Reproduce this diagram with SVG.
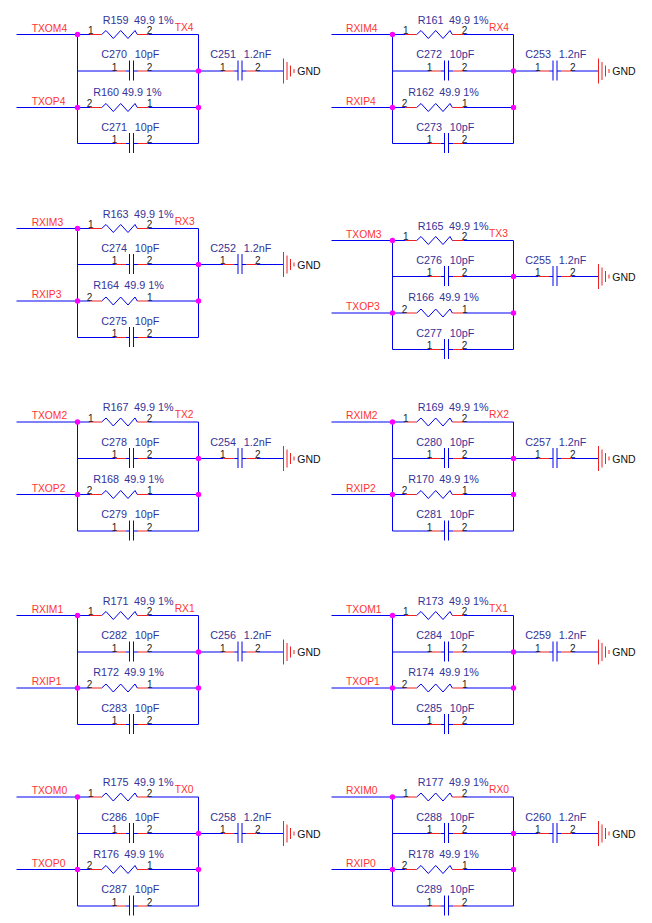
<svg xmlns="http://www.w3.org/2000/svg" width="652" height="923" viewBox="0 0 652 923">
<style>
text{font-family:"Liberation Sans",Arial,sans-serif}
.v{font-size:10.8px;fill:#333399}
.p{font-size:10px;fill:#222222}
.n{font-size:10.3px;fill:#ff3333}
.g{font-size:10.5px;fill:#111111}
.w{fill:none;stroke:#0000f0;stroke-width:1}
.s{fill:none;stroke:#ee2222;stroke-width:1}
.d{fill:#ff00ff}
</style>
<defs>
<g id="r"><path class="s" d="M0 0H11.7M47.3 0H58.3"/><path class="w" d="M11.7 0L16 -4L23.3 4L30.7 -4L38 4L45 -4L47.3 0"/></g>
<g id="c"><path class="s" d="M0 0H10.7M23 0H33"/><path class="w" d="M10.7 0H14.5M14.5 -10.5V9.5M18.5 -10.5V9.5M18.5 0H23"/></g>
<g id="e"><path class="s" d="M0.5 -12.5V12.5M4 -9V9M7.5 -5.5V5.5M11 -2V2"/></g>
</defs>
<g id="connectors">
<path class="w" d="M16.5 34.5H90M148.3 34.5H198.5V143.5H148M115 143.5H77.5V34.5M77.5 71H115M148 71H223.5M256.5 71H283M16.5 107.5H90M148.3 107.5H198.5"/>
<path class="w" d="M331.5 34.5H405M463.3 34.5H513.5V143.5H463M430 143.5H392.5V34.5M392.5 71H430M463 71H538.5M571.5 71H598M331.5 107.5H405M463.3 107.5H513.5"/>
<path class="w" d="M16.5 228.5H90M148.3 228.5H198.5V337.5H148M115 337.5H77.5V228.5M77.5 264.5H115M148 264.5H223.5M256.5 264.5H283M16.5 301H90M148.3 301H198.5"/>
<path class="w" d="M331.5 240.5H405M463.3 240.5H513.5V349.5H463M430 349.5H392.5V240.5M392.5 276.5H430M463 276.5H538.5M571.5 276.5H598M331.5 313H405M463.3 313H513.5"/>
<path class="w" d="M16.5 422H90M148.3 422H198.5V531H148M115 531H77.5V422M77.5 458.5H115M148 458.5H223.5M256.5 458.5H283M16.5 494.5H90M148.3 494.5H198.5"/>
<path class="w" d="M331.5 422H405M463.3 422H513.5V531H463M430 531H392.5V422M392.5 458.5H430M463 458.5H538.5M571.5 458.5H598M331.5 494.5H405M463.3 494.5H513.5"/>
<path class="w" d="M16.5 615.5H90M148.3 615.5H198.5V724.5H148M115 724.5H77.5V615.5M77.5 652H115M148 652H223.5M256.5 652H283M16.5 688H90M148.3 688H198.5"/>
<path class="w" d="M331.5 615.5H405M463.3 615.5H513.5V724.5H463M430 724.5H392.5V615.5M392.5 652H430M463 652H538.5M571.5 652H598M331.5 688H405M463.3 688H513.5"/>
<path class="w" d="M16.5 797H90M148.3 797H198.5V906H148M115 906H77.5V797M77.5 833.5H115M148 833.5H223.5M256.5 833.5H283M16.5 869.5H90M148.3 869.5H198.5"/>
<path class="w" d="M331.5 797H405M463.3 797H513.5V906H463M430 906H392.5V797M392.5 833.5H430M463 833.5H538.5M571.5 833.5H598M331.5 869.5H405M463.3 869.5H513.5"/>
</g>

<g id="block-TX4">
<g id="R159" transform="translate(90,34.5)"><use href="#r"/><text class="v" x="12.7" y="-11">R159</text><text class="v" x="44" y="-11">49.9 1%</text><text class="p" x="-2" y="-.5">1</text><text class="p" x="56.7" y="-.5">2</text></g>
<g id="R160" transform="translate(90,107.5)"><use href="#r"/><text class="v" x="3.3" y="-12">R160</text><text class="v" x="32" y="-12">49.9 1%</text><text class="p" x="-3.3" y="-.5">2</text><text class="p" x="57" y="-.5">1</text></g>
<g id="C270" transform="translate(115,71)"><use href="#c"/><text class="v" x="-13.7" y="-12.7">C270</text><text class="v" x="19.7" y="-12.7">10pF</text><text class="p" x="-3.3" y="-.5">1</text><text class="p" x="31.7" y="-.5">2</text></g>
<g id="C271" transform="translate(115,143.5)"><use href="#c"/><text class="v" x="-13.7" y="-13">C271</text><text class="v" x="19.7" y="-13">10pF</text><text class="p" x="-3.3" y="-.5">1</text><text class="p" x="31.7" y="-.5">2</text></g>
<g id="C251" transform="translate(223.5,71)"><use href="#c"/><text class="v" x="-13.2" y="-12.7">C251</text><text class="v" x="20.2" y="-12.7">1.2nF</text><text class="p" x="-3.5" y="-.5">1</text><text class="p" x="31.5" y="-.5">2</text></g>
<g id="GND-TX4" transform="translate(283,71)"><use href="#e"/><text class="g" x="14.3" y="4">GND</text></g>
<g id="nets-TX4"><text class="n" x="31.7" y="31.7">TXOM4</text><text class="n" x="31.7" y="104.7">TXOP4</text><text class="n" x="174.7" y="30.7">TX4</text><circle class="d" cx="77.5" cy="34.5" r="2.7"/><circle class="d" cx="198.5" cy="71" r="2.7"/><circle class="d" cx="77.5" cy="107.5" r="2.7"/><circle class="d" cx="198.5" cy="107.5" r="2.7"/></g>
</g>

<g id="block-RX4">
<g id="R161" transform="translate(405,34.5)"><use href="#r"/><text class="v" x="12.7" y="-11">R161</text><text class="v" x="44" y="-11">49.9 1%</text><text class="p" x="-2" y="-.5">1</text><text class="p" x="56.7" y="-.5">2</text></g>
<g id="R162" transform="translate(405,107.5)"><use href="#r"/><text class="v" x="3.3" y="-12">R162</text><text class="v" x="34.3" y="-12">49.9 1%</text><text class="p" x="-3.3" y="-.5">2</text><text class="p" x="57" y="-.5">1</text></g>
<g id="C272" transform="translate(430,71)"><use href="#c"/><text class="v" x="-13.7" y="-12.7">C272</text><text class="v" x="19.7" y="-12.7">10pF</text><text class="p" x="-3.3" y="-.5">1</text><text class="p" x="31.7" y="-.5">2</text></g>
<g id="C273" transform="translate(430,143.5)"><use href="#c"/><text class="v" x="-13.7" y="-13">C273</text><text class="v" x="19.7" y="-13">10pF</text><text class="p" x="-3.3" y="-.5">1</text><text class="p" x="31.7" y="-.5">2</text></g>
<g id="C253" transform="translate(538.5,71)"><use href="#c"/><text class="v" x="-13.2" y="-12.7">C253</text><text class="v" x="20.2" y="-12.7">1.2nF</text><text class="p" x="-3.5" y="-.5">1</text><text class="p" x="31.5" y="-.5">2</text></g>
<g id="GND-RX4" transform="translate(598,71)"><use href="#e"/><text class="g" x="14.3" y="4">GND</text></g>
<g id="nets-RX4"><text class="n" x="346" y="31.7">RXIM4</text><text class="n" x="346" y="104.7">RXIP4</text><text class="n" x="489" y="30.7">RX4</text><circle class="d" cx="392.5" cy="34.5" r="2.7"/><circle class="d" cx="513.5" cy="71" r="2.7"/><circle class="d" cx="392.5" cy="107.5" r="2.7"/><circle class="d" cx="513.5" cy="107.5" r="2.7"/></g>
</g>

<g id="block-RX3">
<g id="R163" transform="translate(90,228.5)"><use href="#r"/><text class="v" x="12.7" y="-11">R163</text><text class="v" x="44" y="-11">49.9 1%</text><text class="p" x="-2" y="-.5">1</text><text class="p" x="56.7" y="-.5">2</text></g>
<g id="R164" transform="translate(90,301)"><use href="#r"/><text class="v" x="3.3" y="-12">R164</text><text class="v" x="34.3" y="-12">49.9 1%</text><text class="p" x="-3.3" y="-.5">2</text><text class="p" x="57" y="-.5">1</text></g>
<g id="C274" transform="translate(115,264.5)"><use href="#c"/><text class="v" x="-13.7" y="-12.7">C274</text><text class="v" x="19.7" y="-12.7">10pF</text><text class="p" x="-3.3" y="-.5">1</text><text class="p" x="31.7" y="-.5">2</text></g>
<g id="C275" transform="translate(115,337.5)"><use href="#c"/><text class="v" x="-13.7" y="-13">C275</text><text class="v" x="19.7" y="-13">10pF</text><text class="p" x="-3.3" y="-.5">1</text><text class="p" x="31.7" y="-.5">2</text></g>
<g id="C252" transform="translate(223.5,264.5)"><use href="#c"/><text class="v" x="-13.2" y="-12.7">C252</text><text class="v" x="20.2" y="-12.7">1.2nF</text><text class="p" x="-3.5" y="-.5">1</text><text class="p" x="31.5" y="-.5">2</text></g>
<g id="GND-RX3" transform="translate(283,264.5)"><use href="#e"/><text class="g" x="14.3" y="4">GND</text></g>
<g id="nets-RX3"><text class="n" x="31.7" y="225.7">RXIM3</text><text class="n" x="31.7" y="298.2">RXIP3</text><text class="n" x="174.7" y="224.7">RX3</text><circle class="d" cx="77.5" cy="228.5" r="2.7"/><circle class="d" cx="198.5" cy="264.5" r="2.7"/><circle class="d" cx="77.5" cy="301" r="2.7"/><circle class="d" cx="198.5" cy="301" r="2.7"/></g>
</g>

<g id="block-TX3">
<g id="R165" transform="translate(405,240.5)"><use href="#r"/><text class="v" x="12.7" y="-11">R165</text><text class="v" x="44" y="-11">49.9 1%</text><text class="p" x="-2" y="-.5">1</text><text class="p" x="56.7" y="-.5">2</text></g>
<g id="R166" transform="translate(405,313)"><use href="#r"/><text class="v" x="3.3" y="-12">R166</text><text class="v" x="34.3" y="-12">49.9 1%</text><text class="p" x="-3.3" y="-.5">2</text><text class="p" x="57" y="-.5">1</text></g>
<g id="C276" transform="translate(430,276.5)"><use href="#c"/><text class="v" x="-13.7" y="-12.7">C276</text><text class="v" x="19.7" y="-12.7">10pF</text><text class="p" x="-3.3" y="-.5">1</text><text class="p" x="31.7" y="-.5">2</text></g>
<g id="C277" transform="translate(430,349.5)"><use href="#c"/><text class="v" x="-13.7" y="-13">C277</text><text class="v" x="19.7" y="-13">10pF</text><text class="p" x="-3.3" y="-.5">1</text><text class="p" x="31.7" y="-.5">2</text></g>
<g id="C255" transform="translate(538.5,276.5)"><use href="#c"/><text class="v" x="-13.2" y="-12.7">C255</text><text class="v" x="20.2" y="-12.7">1.2nF</text><text class="p" x="-3.5" y="-.5">1</text><text class="p" x="31.5" y="-.5">2</text></g>
<g id="GND-TX3" transform="translate(598,276.5)"><use href="#e"/><text class="g" x="14.3" y="4">GND</text></g>
<g id="nets-TX3"><text class="n" x="346" y="237.7">TXOM3</text><text class="n" x="346" y="310.2">TXOP3</text><text class="n" x="489" y="236.7">TX3</text><circle class="d" cx="392.5" cy="240.5" r="2.7"/><circle class="d" cx="513.5" cy="276.5" r="2.7"/><circle class="d" cx="392.5" cy="313" r="2.7"/><circle class="d" cx="513.5" cy="313" r="2.7"/></g>
</g>

<g id="block-TX2">
<g id="R167" transform="translate(90,422)"><use href="#r"/><text class="v" x="12.7" y="-11">R167</text><text class="v" x="44" y="-11">49.9 1%</text><text class="p" x="-2" y="-.5">1</text><text class="p" x="56.7" y="-.5">2</text></g>
<g id="R168" transform="translate(90,494.5)"><use href="#r"/><text class="v" x="3.3" y="-12">R168</text><text class="v" x="34.3" y="-12">49.9 1%</text><text class="p" x="-3.3" y="-.5">2</text><text class="p" x="57" y="-.5">1</text></g>
<g id="C278" transform="translate(115,458.5)"><use href="#c"/><text class="v" x="-13.7" y="-12.7">C278</text><text class="v" x="19.7" y="-12.7">10pF</text><text class="p" x="-3.3" y="-.5">1</text><text class="p" x="31.7" y="-.5">2</text></g>
<g id="C279" transform="translate(115,531)"><use href="#c"/><text class="v" x="-13.7" y="-13">C279</text><text class="v" x="19.7" y="-13">10pF</text><text class="p" x="-3.3" y="-.5">1</text><text class="p" x="31.7" y="-.5">2</text></g>
<g id="C254" transform="translate(223.5,458.5)"><use href="#c"/><text class="v" x="-13.2" y="-12.7">C254</text><text class="v" x="20.2" y="-12.7">1.2nF</text><text class="p" x="-3.5" y="-.5">1</text><text class="p" x="31.5" y="-.5">2</text></g>
<g id="GND-TX2" transform="translate(283,458.5)"><use href="#e"/><text class="g" x="14.3" y="4">GND</text></g>
<g id="nets-TX2"><text class="n" x="31.7" y="419.2">TXOM2</text><text class="n" x="31.7" y="491.7">TXOP2</text><text class="n" x="174.7" y="418.2">TX2</text><circle class="d" cx="77.5" cy="422" r="2.7"/><circle class="d" cx="198.5" cy="458.5" r="2.7"/><circle class="d" cx="77.5" cy="494.5" r="2.7"/><circle class="d" cx="198.5" cy="494.5" r="2.7"/></g>
</g>

<g id="block-RX2">
<g id="R169" transform="translate(405,422)"><use href="#r"/><text class="v" x="12.7" y="-11">R169</text><text class="v" x="44" y="-11">49.9 1%</text><text class="p" x="-2" y="-.5">1</text><text class="p" x="56.7" y="-.5">2</text></g>
<g id="R170" transform="translate(405,494.5)"><use href="#r"/><text class="v" x="3.3" y="-12">R170</text><text class="v" x="34.3" y="-12">49.9 1%</text><text class="p" x="-3.3" y="-.5">2</text><text class="p" x="57" y="-.5">1</text></g>
<g id="C280" transform="translate(430,458.5)"><use href="#c"/><text class="v" x="-13.7" y="-12.7">C280</text><text class="v" x="19.7" y="-12.7">10pF</text><text class="p" x="-3.3" y="-.5">1</text><text class="p" x="31.7" y="-.5">2</text></g>
<g id="C281" transform="translate(430,531)"><use href="#c"/><text class="v" x="-13.7" y="-13">C281</text><text class="v" x="19.7" y="-13">10pF</text><text class="p" x="-3.3" y="-.5">1</text><text class="p" x="31.7" y="-.5">2</text></g>
<g id="C257" transform="translate(538.5,458.5)"><use href="#c"/><text class="v" x="-13.2" y="-12.7">C257</text><text class="v" x="20.2" y="-12.7">1.2nF</text><text class="p" x="-3.5" y="-.5">1</text><text class="p" x="31.5" y="-.5">2</text></g>
<g id="GND-RX2" transform="translate(598,458.5)"><use href="#e"/><text class="g" x="14.3" y="4">GND</text></g>
<g id="nets-RX2"><text class="n" x="346" y="419.2">RXIM2</text><text class="n" x="346" y="491.7">RXIP2</text><text class="n" x="489" y="418.2">RX2</text><circle class="d" cx="392.5" cy="422" r="2.7"/><circle class="d" cx="513.5" cy="458.5" r="2.7"/><circle class="d" cx="392.5" cy="494.5" r="2.7"/><circle class="d" cx="513.5" cy="494.5" r="2.7"/></g>
</g>

<g id="block-RX1">
<g id="R171" transform="translate(90,615.5)"><use href="#r"/><text class="v" x="12.7" y="-11">R171</text><text class="v" x="44" y="-11">49.9 1%</text><text class="p" x="-2" y="-.5">1</text><text class="p" x="56.7" y="-.5">2</text></g>
<g id="R172" transform="translate(90,688)"><use href="#r"/><text class="v" x="3.3" y="-12">R172</text><text class="v" x="34.3" y="-12">49.9 1%</text><text class="p" x="-3.3" y="-.5">2</text><text class="p" x="57" y="-.5">1</text></g>
<g id="C282" transform="translate(115,652)"><use href="#c"/><text class="v" x="-13.7" y="-12.7">C282</text><text class="v" x="19.7" y="-12.7">10pF</text><text class="p" x="-3.3" y="-.5">1</text><text class="p" x="31.7" y="-.5">2</text></g>
<g id="C283" transform="translate(115,724.5)"><use href="#c"/><text class="v" x="-13.7" y="-13">C283</text><text class="v" x="19.7" y="-13">10pF</text><text class="p" x="-3.3" y="-.5">1</text><text class="p" x="31.7" y="-.5">2</text></g>
<g id="C256" transform="translate(223.5,652)"><use href="#c"/><text class="v" x="-13.2" y="-12.7">C256</text><text class="v" x="20.2" y="-12.7">1.2nF</text><text class="p" x="-3.5" y="-.5">1</text><text class="p" x="31.5" y="-.5">2</text></g>
<g id="GND-RX1" transform="translate(283,652)"><use href="#e"/><text class="g" x="14.3" y="4">GND</text></g>
<g id="nets-RX1"><text class="n" x="31.7" y="612.7">RXIM1</text><text class="n" x="31.7" y="685.2">RXIP1</text><text class="n" x="174.7" y="611.7">RX1</text><circle class="d" cx="77.5" cy="615.5" r="2.7"/><circle class="d" cx="198.5" cy="652" r="2.7"/><circle class="d" cx="77.5" cy="688" r="2.7"/><circle class="d" cx="198.5" cy="688" r="2.7"/></g>
</g>

<g id="block-TX1">
<g id="R173" transform="translate(405,615.5)"><use href="#r"/><text class="v" x="12.7" y="-11">R173</text><text class="v" x="44" y="-11">49.9 1%</text><text class="p" x="-2" y="-.5">1</text><text class="p" x="56.7" y="-.5">2</text></g>
<g id="R174" transform="translate(405,688)"><use href="#r"/><text class="v" x="3.3" y="-12">R174</text><text class="v" x="34.3" y="-12">49.9 1%</text><text class="p" x="-3.3" y="-.5">2</text><text class="p" x="57" y="-.5">1</text></g>
<g id="C284" transform="translate(430,652)"><use href="#c"/><text class="v" x="-13.7" y="-12.7">C284</text><text class="v" x="19.7" y="-12.7">10pF</text><text class="p" x="-3.3" y="-.5">1</text><text class="p" x="31.7" y="-.5">2</text></g>
<g id="C285" transform="translate(430,724.5)"><use href="#c"/><text class="v" x="-13.7" y="-13">C285</text><text class="v" x="19.7" y="-13">10pF</text><text class="p" x="-3.3" y="-.5">1</text><text class="p" x="31.7" y="-.5">2</text></g>
<g id="C259" transform="translate(538.5,652)"><use href="#c"/><text class="v" x="-13.2" y="-12.7">C259</text><text class="v" x="20.2" y="-12.7">1.2nF</text><text class="p" x="-3.5" y="-.5">1</text><text class="p" x="31.5" y="-.5">2</text></g>
<g id="GND-TX1" transform="translate(598,652)"><use href="#e"/><text class="g" x="14.3" y="4">GND</text></g>
<g id="nets-TX1"><text class="n" x="346" y="612.7">TXOM1</text><text class="n" x="346" y="685.2">TXOP1</text><text class="n" x="489" y="611.7">TX1</text><circle class="d" cx="392.5" cy="615.5" r="2.7"/><circle class="d" cx="513.5" cy="652" r="2.7"/><circle class="d" cx="392.5" cy="688" r="2.7"/><circle class="d" cx="513.5" cy="688" r="2.7"/></g>
</g>

<g id="block-TX0">
<g id="R175" transform="translate(90,797)"><use href="#r"/><text class="v" x="12.7" y="-11">R175</text><text class="v" x="44" y="-11">49.9 1%</text><text class="p" x="-2" y="-.5">1</text><text class="p" x="56.7" y="-.5">2</text></g>
<g id="R176" transform="translate(90,869.5)"><use href="#r"/><text class="v" x="3.3" y="-12">R176</text><text class="v" x="34.3" y="-12">49.9 1%</text><text class="p" x="-3.3" y="-.5">2</text><text class="p" x="57" y="-.5">1</text></g>
<g id="C286" transform="translate(115,833.5)"><use href="#c"/><text class="v" x="-13.7" y="-12.7">C286</text><text class="v" x="19.7" y="-12.7">10pF</text><text class="p" x="-3.3" y="-.5">1</text><text class="p" x="31.7" y="-.5">2</text></g>
<g id="C287" transform="translate(115,906)"><use href="#c"/><text class="v" x="-13.7" y="-13">C287</text><text class="v" x="19.7" y="-13">10pF</text><text class="p" x="-3.3" y="-.5">1</text><text class="p" x="31.7" y="-.5">2</text></g>
<g id="C258" transform="translate(223.5,833.5)"><use href="#c"/><text class="v" x="-13.2" y="-12.7">C258</text><text class="v" x="20.2" y="-12.7">1.2nF</text><text class="p" x="-3.5" y="-.5">1</text><text class="p" x="31.5" y="-.5">2</text></g>
<g id="GND-TX0" transform="translate(283,833.5)"><use href="#e"/><text class="g" x="14.3" y="4">GND</text></g>
<g id="nets-TX0"><text class="n" x="31.7" y="794.2">TXOM0</text><text class="n" x="31.7" y="866.7">TXOP0</text><text class="n" x="174.7" y="793.2">TX0</text><circle class="d" cx="77.5" cy="797" r="2.7"/><circle class="d" cx="198.5" cy="833.5" r="2.7"/><circle class="d" cx="77.5" cy="869.5" r="2.7"/><circle class="d" cx="198.5" cy="869.5" r="2.7"/></g>
</g>

<g id="block-RX0">
<g id="R177" transform="translate(405,797)"><use href="#r"/><text class="v" x="12.7" y="-11">R177</text><text class="v" x="44" y="-11">49.9 1%</text><text class="p" x="-2" y="-.5">1</text><text class="p" x="56.7" y="-.5">2</text></g>
<g id="R178" transform="translate(405,869.5)"><use href="#r"/><text class="v" x="3.3" y="-12">R178</text><text class="v" x="34.3" y="-12">49.9 1%</text><text class="p" x="-3.3" y="-.5">2</text><text class="p" x="57" y="-.5">1</text></g>
<g id="C288" transform="translate(430,833.5)"><use href="#c"/><text class="v" x="-13.7" y="-12.7">C288</text><text class="v" x="19.7" y="-12.7">10pF</text><text class="p" x="-3.3" y="-.5">1</text><text class="p" x="31.7" y="-.5">2</text></g>
<g id="C289" transform="translate(430,906)"><use href="#c"/><text class="v" x="-13.7" y="-13">C289</text><text class="v" x="19.7" y="-13">10pF</text><text class="p" x="-3.3" y="-.5">1</text><text class="p" x="31.7" y="-.5">2</text></g>
<g id="C260" transform="translate(538.5,833.5)"><use href="#c"/><text class="v" x="-13.2" y="-12.7">C260</text><text class="v" x="20.2" y="-12.7">1.2nF</text><text class="p" x="-3.5" y="-.5">1</text><text class="p" x="31.5" y="-.5">2</text></g>
<g id="GND-RX0" transform="translate(598,833.5)"><use href="#e"/><text class="g" x="14.3" y="4">GND</text></g>
<g id="nets-RX0"><text class="n" x="346" y="794.2">RXIM0</text><text class="n" x="346" y="866.7">RXIP0</text><text class="n" x="489" y="793.2">RX0</text><circle class="d" cx="392.5" cy="797" r="2.7"/><circle class="d" cx="513.5" cy="833.5" r="2.7"/><circle class="d" cx="392.5" cy="869.5" r="2.7"/><circle class="d" cx="513.5" cy="869.5" r="2.7"/></g>
</g>
</svg>
